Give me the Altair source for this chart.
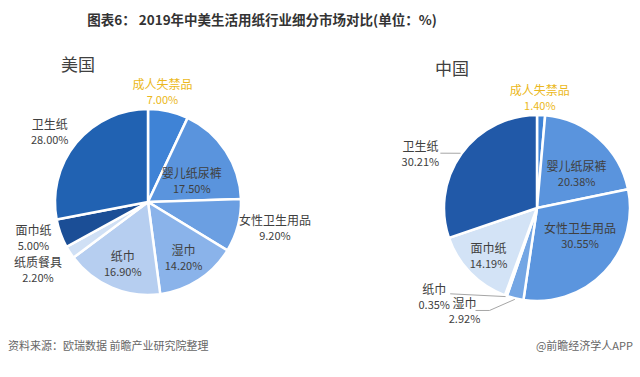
import altair as alt
import pandas as pd

# ---------------- data ----------------
us_categories = ["成人失禁品", "婴儿纸尿裤", "女性卫生用品", "湿巾", "纸巾", "纸质餐具", "面巾纸", "卫生纸"]
us_values = [7.00, 17.50, 9.20, 14.20, 16.90, 2.20, 5.00, 28.00]

cn_categories = ["成人失禁品", "婴儿纸尿裤", "女性卫生用品", "湿巾", "纸巾", "面巾纸", "卫生纸"]
cn_values = [1.40, 20.38, 30.55, 2.92, 0.35, 14.19, 30.21]

title_text = "图表6： 2019年中美生活用纸行业细分市场对比(单位：%)"
us_title = "美国"
cn_title = "中国"
source_text = "资料来源：欧瑞数据  前瞻产业研究院整理"
credit_text = "@前瞻经济学人APP"

# ---------------- styles ----------------
FONT = "Noto Sans CJK SC"
us_colors = ["#3f83d6", "#5a94dd", "#6b9fe2", "#8ab3ea", "#b6cef0", "#d0e0f5", "#1b4e96", "#2162b2"]
cn_colors = ["#3f83d6", "#5a94dd", "#5b95de", "#74a6e4", "#b6cef0", "#d3e3f6", "#2159a8"]
GOLD = "#ebb820"
LABEL = "#404040"

US_C = (148, 202)
CN_C = (537, 208)
R = 93

# label placement: radius along mid-angle, then pixel nudge
us_label_pos = {
    "成人失禁品": (112, -10, 0),
    "婴儿纸尿裤": (50, 2, 7),
    "女性卫生用品": (125, 6, -5),
    "湿巾": (65, 0, 3),
    "纸巾": (65, 0, 3),
    "纸质餐具": (125, -5, 1),
    "面巾纸": (125, 3, -5),
    "卫生纸": (125, -2, 11),
}
cn_label_pos = {
    "成人失禁品": (110, -2, 1),
    "婴儿纸尿裤": (55, 3, 8),
    "女性卫生用品": (55, 3, -9),
    "面巾纸": (65, -2, 4),
    "卫生纸": (125, -15, 20),
    "纸巾": (125, -61, -28),
    "湿巾": (125, -43, -17),
}
# leader lines: (category, label-side offset from label anchor)
cn_leaders = [
    ("卫生纸", [(20, -2)]),
    ("纸巾", [(16, -4)]),
    ("湿巾", [(25, -2), (11, -2)]),
]


def make_df(cats, vals):
    return pd.DataFrame({"idx": list(range(len(cats))), "category": cats, "value": vals})


us_df = make_df(us_categories, us_values)
cn_df = make_df(cn_categories, cn_values)

theta_scale = alt.Scale(domain=[0, 100], range=[0, 6.283185307179586])


def pie(df, cats, colors, center):
    return alt.Chart(df).mark_arc(outerRadius=R, stroke="white", strokeWidth=2.5).encode(
        x=alt.value(center[0]),
        y=alt.value(center[1]),
        theta=alt.Theta("value:Q", stack=True, scale=theta_scale),
        color=alt.Color("category:N", scale=alt.Scale(domain=cats, range=colors), legend=None),
        order=alt.Order("idx:Q"),
    )


def with_mid(df):
    return (
        alt.Chart(df)
        .transform_window(cum="sum(value)", frame=[None, 0], sort=[alt.SortField("idx")])
        .transform_calculate(
            mid="datum.cum - datum.value / 2",
            pct="format(datum.value, '.2f') + '%'",
        )
    )


def label_layers(df, center, pos):
    layers = []
    for cat, (r, dx, dy) in pos.items():
        col = GOLD if cat == "成人失禁品" else LABEL
        base = with_mid(df).transform_filter(alt.datum.category == cat)
        enc = dict(
            x=alt.value(center[0]),
            y=alt.value(center[1]),
            theta=alt.Theta("mid:Q", stack=None, scale=theta_scale),
            radius=alt.value(r),
        )
        layers.append(
            base.mark_text(font=FONT, fontSize=12, color=col, dx=dx, dy=dy - 8).encode(
                text="category:N", **enc
            )
        )
        layers.append(
            base.mark_text(font=FONT, fontSize=11, color=col, dx=dx, dy=dy + 8).encode(
                text="pct:N", **enc
            )
        )
    return layers


def leader_layers(df, center, pos, leaders):
    layers = []
    cx, cy = center
    for cat, pts in leaders:
        r, dx, dy = pos[cat]
        ang = "(2 * PI * datum.mid / 100)"
        ax = f"({cx} + {r} * sin({ang}) + {dx})"
        ay = f"({cy} - {r} * cos({ang}) + {dy})"
        chain = [(f"{cx} + {R + 1} * sin({ang})", f"{cy} - {R + 1} * cos({ang})")]
        for ox, oy in pts:
            chain.append((f"{ax} + {ox}", f"{ay} + {oy}"))
        for (x1, y1), (x2, y2) in zip(chain[:-1], chain[1:]):
            layers.append(
                with_mid(df)
                .transform_filter(alt.datum.category == cat)
                .transform_calculate(lx1=x1, ly1=y1, lx2=x2, ly2=y2)
                .mark_rule(color="#a6a6a6", strokeWidth=1)
                .encode(
                    x=alt.X("lx1:Q", scale=None),
                    y=alt.Y("ly1:Q", scale=None),
                    x2="lx2:Q",
                    y2="ly2:Q",
                )
            )
    return layers


def static_text(txt, x, y, size, color, align="center", weight="normal"):
    return alt.Chart(pd.DataFrame({"t": [txt]})).mark_text(
        font=FONT, fontSize=size, color=color, align=align, baseline="middle", fontWeight=weight
    ).encode(x=alt.value(x), y=alt.value(y), text="t:N")


layers = [
    pie(us_df, us_categories, us_colors, US_C),
    pie(cn_df, cn_categories, cn_colors, CN_C),
]
layers += leader_layers(cn_df, CN_C, cn_label_pos, cn_leaders)
layers += label_layers(us_df, US_C, us_label_pos)
layers += label_layers(cn_df, CN_C, cn_label_pos)
layers += [
    static_text(title_text, 262, 21, 13.5, "#333333", weight="bold"),
    static_text(us_title, 78, 66, 17, "#404040"),
    static_text(cn_title, 452, 70, 17, "#404040"),
    static_text(source_text, 8, 347, 11, "#666666", align="left"),
    static_text(credit_text, 633, 347, 11, "#666666", align="right"),
]

chart = (
    alt.layer(*layers)
    .resolve_scale(color="independent")
    .properties(width=640, height=377, padding=0, autosize="none", background="white")
    .configure_view(stroke=None)
)

chart.save("out.html", embed_options={"renderer": "svg", "actions": False})
